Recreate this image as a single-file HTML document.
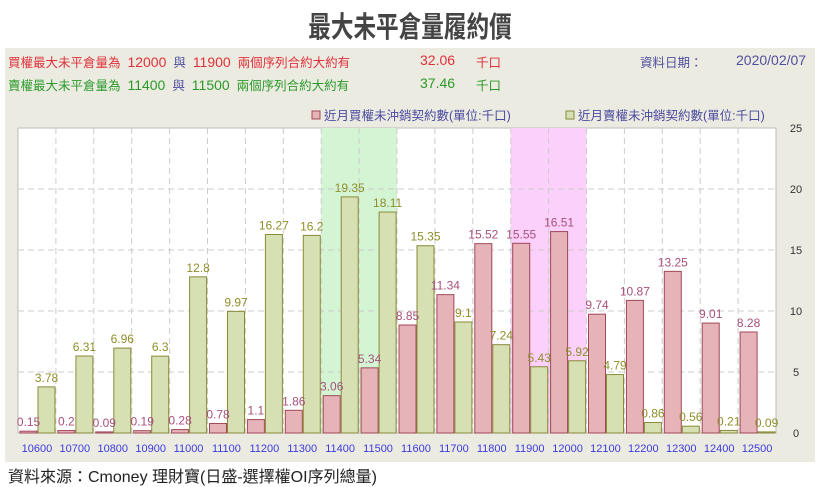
<!DOCTYPE html>
<html><head><meta charset="utf-8">
<style>
body{margin:0;width:820px;height:486px;background:#fff;overflow:hidden;font-family:"Liberation Sans","Noto Sans CJK TC",sans-serif;position:relative}
.t{position:absolute;white-space:nowrap}
#title{left:0;width:820px;top:4px;text-align:center;font-size:29px;font-weight:bold;color:#444;transform:scaleX(0.78);transform-origin:410px 0}
#panel{position:absolute;left:5px;top:48px;width:810px;height:414px;background:#ecebe1}
.info{font-size:12.5px}
.r{color:#e0303a}.g{color:#2a9a2a}.b{color:#5050a0}
</style></head><body>
<div class="t" id="title">最大未平倉量履約價</div>
<div id="panel"></div>
<div class="t info r" style="left:8px;top:52px">買權最大未平倉量為 &nbsp;<span style="font-size:14px">12000</span> &nbsp;<span class="b">與</span> &nbsp;<span style="font-size:14px">11900</span> &nbsp;兩個序列合約大約有 <span style="position:absolute;left:412px;font-size:14px">32.06</span><span style="position:absolute;left:468px">千口</span></div>
<div class="t info g" style="left:8px;top:75px">賣權最大未平倉量為 &nbsp;<span style="font-size:14px">11400</span> &nbsp;<span class="b">與</span> &nbsp;<span style="font-size:14px">11500</span> &nbsp;兩個序列合約大約有 <span style="position:absolute;left:412px;font-size:14px">37.46</span><span style="position:absolute;left:468px">千口</span></div>
<div class="t info b" style="left:640px;top:52px">資料日期：</div>
<div class="t info b" style="left:736px;top:52px;font-size:14px">2020/02/07</div>
<div class="t" style="left:8px;top:463px;font-size:16px;color:#222">資料來源：Cmoney 理財寶(日盛-選擇權OI序列總量)</div>
<svg id="chart" width="820" height="486" style="position:absolute;left:0;top:0"></svg>
<script>
const categories=["10600","10700","10800","10900","11000","11100","11200","11300","11400","11500","11600","11700","11800","11900","12000","12100","12200","12300","12400","12500"];
const callValues=[0.15,0.2,0.09,0.19,0.28,0.78,1.1,1.86,3.06,5.34,8.85,11.34,15.52,15.55,16.51,9.74,10.87,13.25,9.01,8.28];
const putValues=[3.78,6.31,6.96,6.3,12.8,9.97,16.27,16.2,19.35,18.11,15.35,9.1,7.24,5.43,5.92,4.79,0.86,0.56,0.21,0.09];
const yTicks=[0,5,10,15,20,25];
const putHighlight=["11400","11500"];
const callHighlight=["11900","12000"];
const NS="http://www.w3.org/2000/svg";
const svg=document.getElementById('chart');
const L=18,R=776,T=128,B=433,yMax=25;
const slot=(R-L)/categories.length;
const x=i=>L+i*slot;
const y=v=>B-(v/yMax)*(B-T);
function mk(tag,attrs,parent){const e=document.createElementNS(NS,tag);for(const k in attrs)e.setAttribute(k,attrs[k]);(parent||svg).appendChild(e);return e;}
const plot=mk('rect',{x:L,y:T,width:R-L,height:B-T,fill:'#fff',stroke:'#bbb'});


function hl(arr,col,name){const i=categories.indexOf(arr[0]);const r=mk('rect',{x:x(i),y:T,width:slot*arr.length,height:B-T,fill:col});

}
hl(putHighlight,'#d4f5d4','put-max-highlight');
hl(callHighlight,'#fbd0fb','call-max-highlight');
yTicks.forEach(t=>{if(t>0&&t<yMax){mk('line',{x1:L,x2:R,y1:y(t),y2:y(t),stroke:'#ccc','stroke-dasharray':'6,4'});}
const tx=mk('text',{x:796,y:y(t)+4,'text-anchor':'middle','font-size':11,fill:'#333'});tx.textContent=t;

});
categories.forEach((c,i)=>{if(i>0)mk('line',{x1:x(i),x2:x(i),y1:T,y2:B,stroke:'#ccc','stroke-dasharray':'6,4'});
const tx=mk('text',{x:x(i)+slot/2,y:452,'text-anchor':'middle','font-size':11,fill:'#3a3ae0'});tx.textContent=c;

});
categories.forEach((c,i)=>{
const cv=callValues[i],pv=putValues[i];
const b1=mk('rect',{x:x(i)+2,y:y(cv),width:17,height:B-y(cv),fill:'#e6b3b8',stroke:'#a04858','stroke-width':1});


const b2=mk('rect',{x:x(i)+20,y:y(pv),width:17,height:B-y(pv),fill:'#d6e0b2',stroke:'#8a8a3a','stroke-width':1});


const l1=mk('text',{x:x(i)+10.5,y:y(cv)-5,'text-anchor':'middle','font-size':12,fill:'#a8507a'});l1.textContent=cv;


const l2=mk('text',{x:x(i)+28.5,y:y(pv)-5,'text-anchor':'middle','font-size':12,fill:'#8e8e2a'});l2.textContent=pv;


});
// legend
const lg=[[312,'#e6b3b8','#a04858','近月買權未沖銷契約數(單位:千口)','legend-call'],[566,'#d6e0b2','#8a8a3a','近月賣權未沖銷契約數(單位:千口)','legend-put']];
lg.forEach(a=>{const g=mk('g',{});


mk('rect',{x:a[0],y:111,width:8,height:8,fill:a[1],stroke:a[2]},g);
const t=mk('text',{x:a[0]+12,y:120,'font-size':12.5,fill:'#4a4aa0'},g);t.textContent=a[3];});
</script>
</body></html>
